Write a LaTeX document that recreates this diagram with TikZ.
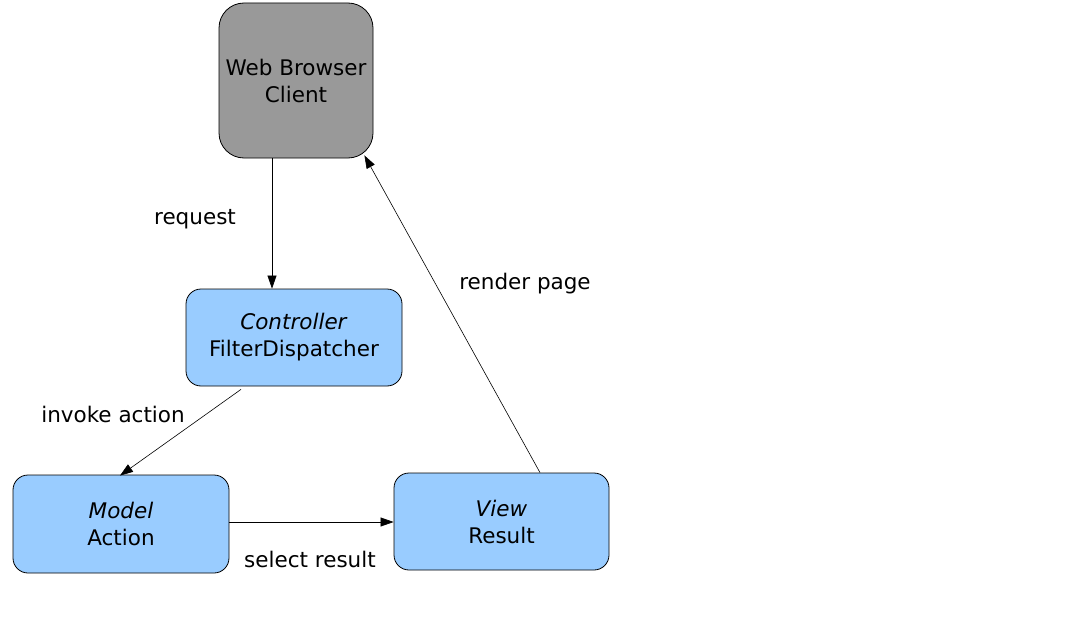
\documentclass[tikz,border=0pt]{standalone}
\usepackage{fontspec}
\setmainfont{DejaVu Sans}
\usetikzlibrary{arrows.meta}
\definecolor{boxgray}{HTML}{999999}
\definecolor{boxblue}{HTML}{99CCFF}
\begin{document}
\begin{tikzpicture}[x=1pt,y=-1pt,
  every node/.style={font=\fontsize{21.5}{27}\selectfont, inner sep=0pt, align=center},
  box/.style={draw=black, line width=0.8pt, rounded corners=#1},
  box/.default=15pt,
  conn/.style={draw=black, line width=0.6pt, -{Triangle[length=13pt,width=9pt]}},
  lbl/.style={}]
\fill[white] (0,0) rectangle (1088,626);
\useasboundingbox (0,0) rectangle (1088,626);
\node[box=25pt, fill=boxgray, minimum width=154pt, minimum height=155pt] (browser) at (296,80.5) {Web Browser\\Client};
\node[box, fill=boxblue, minimum width=216pt, minimum height=97pt] (controller) at (294,337.5) {\textit{Controller}\\FilterDispatcher};
\node[box, fill=boxblue, minimum width=216pt, minimum height=98pt] (model) at (121,524) {\textit{Model}\\Action};
\node[box, fill=boxblue, minimum width=215pt, minimum height=97pt] (view) at (501.5,521.5) {\textit{View}\\Result};
\draw[conn] ([xshift=-24pt]browser.south) -- ([xshift=-22pt]controller.north);
\draw[conn] ([xshift=-53pt,yshift=-3pt]controller.south) -- ([xshift=-1pt,yshift=-1pt]model.north);
\draw[conn] ([yshift=2pt]model.east) -- ([yshift=-0.5pt]view.west);
\draw[conn] ([xshift=38.5pt]view.north) -- ([xshift=-9pt,yshift=3pt]browser.south east);
\node[lbl] (lreq) at (195,219) {request};
\node[lbl] (lrender) at (525,284) {render page};
\node[lbl] (linvoke) at (113,414) {invoke action};
\node[lbl] (lselect) at (310,559) {select result};
\end{tikzpicture}
\end{document}
